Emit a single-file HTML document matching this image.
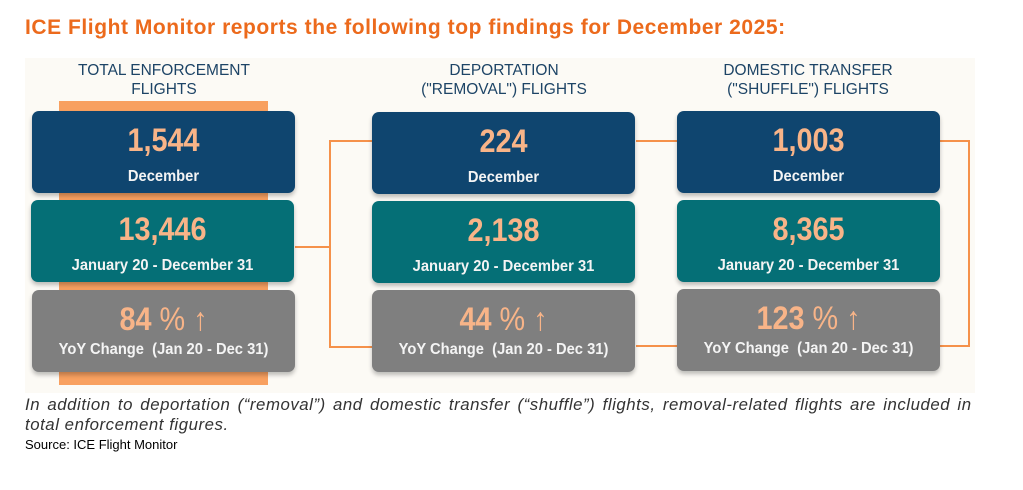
<!DOCTYPE html><html><head><style>
body{margin:0;width:1023px;height:490px;background:#fff;position:relative;overflow:hidden;font-family:"Liberation Sans",sans-serif}
.a{position:absolute}
.t{left:25px;top:16px;font-size:21px;letter-spacing:0.55px;font-weight:bold;color:#ec6a1c}
.p{left:25px;top:58px;width:950px;height:335px;background:#fcfaf5}
.h{color:#1d4466;font-size:15.5px;text-align:center;line-height:19px;width:300px}
.b{border-radius:7px;text-align:center;color:#f4f4f4;box-shadow:0 3px 4px rgba(0,0,0,.25);width:263px;height:82px}
.n{font-size:32px;font-weight:bold;color:#f8b488;margin-top:11px;line-height:36px;transform:scaleX(.9)}
.s{font-size:16px;font-weight:bold;margin-top:10px;transform:scaleX(.92)}
.nv{background:#0f456f}.tl{background:#056f76}.gr{background:#7f7f7f}
.gr .s{margin-top:4px}
.ln{background:#f5914a}
.c{left:25px;width:950px;font-size:16.8px;letter-spacing:0.55px;font-style:italic;color:#333;line-height:20px;white-space:nowrap}
</style></head><body>
<div class="a t">ICE Flight Monitor reports the following top findings for December 2025:</div>
<div class="a p"></div>
<div class="a h" style="left:14px;top:61px">TOTAL ENFORCEMENT<br>FLIGHTS</div>
<div class="a h" style="left:354px;top:61px">DEPORTATION<br>("REMOVAL") FLIGHTS</div>
<div class="a h" style="left:658px;top:61px">DOMESTIC TRANSFER<br>("SHUFFLE") FLIGHTS</div>
<div class="a" style="left:59px;top:101px;width:209px;height:284px;background:#f8a060"></div>
<div class="a ln" style="left:295px;top:246px;width:36px;height:2px"></div>
<div class="a ln" style="left:329px;top:140px;width:2px;height:208px"></div>
<div class="a ln" style="left:329px;top:140px;width:45px;height:2px"></div>
<div class="a ln" style="left:329px;top:346px;width:45px;height:2px"></div>
<div class="a ln" style="left:636px;top:140px;width:42px;height:2px"></div>
<div class="a ln" style="left:636px;top:345px;width:42px;height:2px"></div>
<div class="a ln" style="left:940px;top:140px;width:30px;height:2px"></div>
<div class="a ln" style="left:968px;top:140px;width:2px;height:207px"></div>
<div class="a ln" style="left:940px;top:345px;width:30px;height:2px"></div>
<div class="a b nv" style="left:32px;top:111px"><div class="n">1,544</div><div class="s">December</div></div>
<div class="a b tl" style="left:31px;top:200px"><div class="n">13,446</div><div class="s">January 20 - December 31</div></div>
<div class="a b gr" style="left:32px;top:290px"><div class="n">84 <span style="font-weight:normal">% ↑</span></div><div class="s">YoY Change &nbsp;(Jan 20 - Dec 31)</div></div>
<div class="a b nv" style="left:372px;top:112px"><div class="n">224</div><div class="s">December</div></div>
<div class="a b tl" style="left:372px;top:201px"><div class="n">2,138</div><div class="s">January 20 - December 31</div></div>
<div class="a b gr" style="left:372px;top:290px"><div class="n">44 <span style="font-weight:normal">% ↑</span></div><div class="s">YoY Change &nbsp;(Jan 20 - Dec 31)</div></div>
<div class="a b nv" style="left:677px;top:111px"><div class="n">1,003</div><div class="s">December</div></div>
<div class="a b tl" style="left:677px;top:200px"><div class="n">8,365</div><div class="s">January 20 - December 31</div></div>
<div class="a b gr" style="left:677px;top:289px"><div class="n">123 <span style="font-weight:normal">% ↑</span></div><div class="s">YoY Change &nbsp;(Jan 20 - Dec 31)</div></div>
<div class="a c" style="top:395px;word-spacing:2.1px">In addition to deportation (“removal”) and domestic transfer (“shuffle”) flights, removal-related flights are included in</div>
<div class="a c" style="top:415px">total enforcement figures.</div>
<div class="a" style="left:25px;top:437px;font-size:13px;color:#000">Source: ICE Flight Monitor</div>
</body></html>
